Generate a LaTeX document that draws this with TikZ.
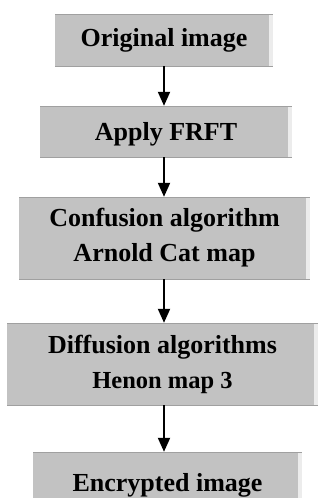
\documentclass[tikz,border=0pt]{standalone}
\usepackage{fontspec}
\setmainfont{Liberation Serif}
\usetikzlibrary{arrows.meta}

\definecolor{boxgray}{RGB}{194,194,194}
\definecolor{edgelight}{RGB}{236,236,236}
\definecolor{edgedark}{RGB}{160,160,160}

\tikzset{
	stepbox/.style={
		fill=boxgray, inner sep=0pt, align=center,
		font=\bfseries\fontsize{26}{35}\selectfont,
		path picture={
			\fill[edgelight] ([xshift=-4pt]path picture bounding box.north east)
			rectangle (path picture bounding box.south east);
			\draw[edgedark, line width=1.5pt] (path picture bounding box.north west)
			-- (path picture bounding box.north east);
			\draw[edgedark, line width=1pt] (path picture bounding box.south west)
			-- (path picture bounding box.south east);
		}
	},
	flow/.style={-{Triangle[width=12pt,length=14pt]}, line width=2pt}
}

\begin{document}
\begin{tikzpicture}[x=1pt,y=-1pt]
		\useasboundingbox (0,0) rectangle (321,498);
		% boxes
		\node[stepbox, minimum width=218pt, minimum height=52pt] (orig) at (164,40) {Original image};
		\node[stepbox, minimum width=252pt, minimum height=51pt, text depth=0pt] (frft) at (166,131.5) {Apply FRFT};
		\node[stepbox, minimum width=291pt, minimum height=82pt] (conf) at (164.5,238) {Confusion algorithm\\Arnold Cat map};
		\node[stepbox, minimum width=311pt, minimum height=82pt] (diff) at (162.5,364)
		{Diffusion algorithms\\{\fontsize{24.5}{33}\selectfont Henon map 3}};
		\node[stepbox, minimum width=269pt, minimum height=60pt, text depth=0pt] (encr) at (167.5,482) {Encrypted image};
		% arrows
		\draw[flow] (orig.south) -- (orig.south |- frft.north);
		\draw[flow] (frft.south -| orig.south) -- (orig.south |- conf.north);
		\draw[flow] (conf.south -| orig.south) -- (orig.south |- diff.north);
		\draw[flow] (diff.south -| orig.south) -- (orig.south |- encr.north);
\end{tikzpicture}
\end{document}
